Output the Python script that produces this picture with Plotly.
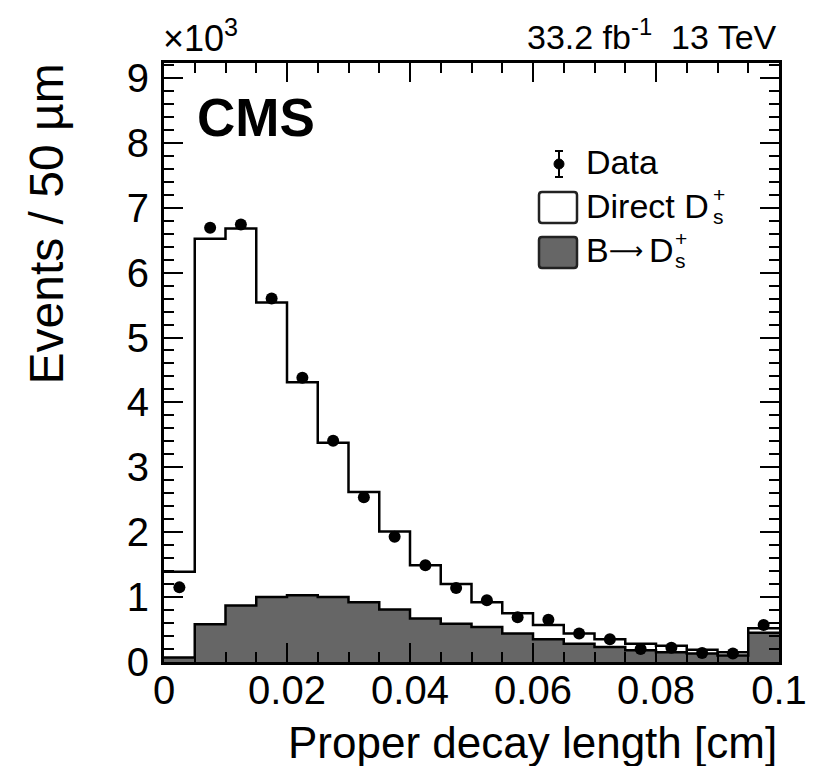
import plotly.graph_objects as go

# ---------------- data (in units of 10^3 events) ----------------
bin_edges = [0.000, 0.005, 0.010, 0.015, 0.020, 0.025, 0.030, 0.035, 0.040, 0.045,
             0.050, 0.055, 0.060, 0.065, 0.070, 0.075, 0.080, 0.085, 0.090, 0.095, 0.100]
direct_ds = [1.32, 5.94, 5.81, 4.54, 3.28, 2.38, 1.70, 1.20, 0.82, 0.61,
             0.38, 0.31, 0.22, 0.16, 0.12, 0.10, 0.10, 0.06, 0.05, 0.07]
b_to_ds = [0.07, 0.58, 0.87, 1.00, 1.03, 1.00, 0.92, 0.81, 0.67, 0.59,
           0.54, 0.44, 0.35, 0.28, 0.23, 0.18, 0.15, 0.13, 0.10, 0.45]
data_counts = [1.15, 6.69, 6.74, 5.60, 4.38, 3.41, 2.54, 1.93, 1.49, 1.14,
               0.95, 0.69, 0.65, 0.44, 0.35, 0.20, 0.22, 0.14, 0.13, 0.57]
x_tick_vals = [0, 0.02, 0.04, 0.06, 0.08, 0.1]
x_tick_text = ["0", "0.02", "0.04", "0.06", "0.08", "0.1"]
y_tick_vals = [0, 1, 2, 3, 4, 5, 6, 7, 8, 9]
y_tick_text = ["0", "1", "2", "3", "4", "5", "6", "7", "8", "9"]

# ---------------- layout geometry ----------------
# The page body has an 8px margin, so the figure is drawn 8px smaller and
# placed at (8, 8) on the page.
OFF = 8
PAGE_W, PAGE_H = 832, 766
W, H = PAGE_W - OFF, PAGE_H - OFF
PL, PR, PT, PB = 164, 779, 63, 662          # plot frame in page pixels
L, R, T, B = PL - OFF, PAGE_W - PR, PT - OFF, PAGE_H - PB
PW = PR - PL
PH = PB - PT
FONT = "Liberation Sans, Arial, Helvetica, sans-serif"
GRAY = "#666666"


def px(x):
    return (x - PL) / PW


def py(y):
    return (PB - y) / PH


total = [d + b for d, b in zip(direct_ds, b_to_ds)]
centers = [(a + b) / 2 for a, b in zip(bin_edges[:-1], bin_edges[1:])]

fig = go.Figure()
fig.add_trace(go.Scatter(
    x=bin_edges, y=total + [total[-1]], mode="lines",
    line=dict(shape="hv", color="black", width=2.5),
    fill="tozeroy", fillcolor="white", showlegend=False, hoverinfo="skip"))
fig.add_trace(go.Scatter(
    x=bin_edges, y=b_to_ds + [b_to_ds[-1]], mode="lines",
    line=dict(shape="hv", color="black", width=2.5),
    fill="tozeroy", fillcolor=GRAY, showlegend=False, hoverinfo="skip"))
fig.add_trace(go.Scatter(
    x=centers, y=data_counts, mode="markers",
    marker=dict(color="black", size=12), showlegend=False))

axis_common = dict(
    showline=True, linecolor="black", linewidth=3, mirror="ticks",
    ticks="inside", ticklen=19, tickwidth=2, tickcolor="black",
    showgrid=False, zeroline=False, layer="above traces",
    tickfont=dict(family=FONT, size=40, color="black"),
)

fig.update_layout(
    width=W, height=H,
    margin=dict(l=L, r=R, t=T, b=B, autoexpand=False),
    paper_bgcolor="white", plot_bgcolor="white",
    showlegend=False,
    xaxis=dict(range=[0, 0.1], tickmode="array", tickvals=x_tick_vals, ticktext=x_tick_text,
               ticklabelstandoff=-9,
               minor=dict(ticks="inside", ticklen=10, tickwidth=2, tickcolor="black",
                          dtick=0.005, tick0=0),
               **axis_common),
    yaxis=dict(range=[0, 9.23], tickmode="array", tickvals=y_tick_vals, ticktext=y_tick_text,
               ticklabelstandoff=4,
               minor=dict(ticks="inside", ticklen=10, tickwidth=2, tickcolor="black",
                          dtick=0.2, tick0=0),
               **axis_common),
)

ann = []


def text(x, y, s, size, xanchor="left", yanchor="middle", bold=False, angle=0, family=FONT):
    ann.append(dict(
        x=px(x), y=py(y), xref="paper", yref="paper", text=("<b>%s</b>" % s) if bold else s,
        showarrow=False, xanchor=xanchor, yanchor=yanchor, textangle=angle,
        font=dict(family=family, size=size, color="black")))


# header texts
text(161, 36, "×10<sup>3</sup>", 36)
text(779, 35, "33.2 fb<sup>-1</sup>\u00a0\u00a013 TeV", 34, xanchor="right")
text(195, 118, "CMS", 53, bold=True)
# axis titles
text(779, 742, "Proper decay length [cm]", 44, xanchor="right")
text(46, 62, "Events / 50 µm", 48, xanchor="center", yanchor="top", angle=-90)

# legend texts
text(584, 162, "Data", 34)
text(584, 206, "Direct D", 34)
text(711, 194, "+", 21)
text(711, 216, "s", 21)
text(584, 250, "B", 34)
text(607, 251, "\u27f6", 24, family="DejaVu Sans")
text(647, 250, "D", 34)
text(673, 238, "+", 21)
text(673, 260, "s", 21)

shapes = []


def rbox(x0, y0, x1, y1, fill, r=3):
    X0, X1 = px(x0), px(x1)
    Y0, Y1 = py(y0), py(y1)
    rx, ry = r / PW, r / PH
    path = (f"M {X0+rx},{Y0} L {X1-rx},{Y0} Q {X1},{Y0} {X1},{Y0-ry} "
            f"L {X1},{Y1+ry} Q {X1},{Y1} {X1-rx},{Y1} L {X0+rx},{Y1} "
            f"Q {X0},{Y1} {X0},{Y1+ry} L {X0},{Y0-ry} Q {X0},{Y0} {X0+rx},{Y0} Z")
    shapes.append(dict(type="path", path=path, xref="paper", yref="paper",
                       fillcolor=fill, line=dict(color="#222222", width=2.5)))


rbox(539, 192, 577, 223, "white")
rbox(539, 237, 577, 268, GRAY)

# legend data marker with error bar
shapes.append(dict(type="line", xref="paper", yref="paper",
                   x0=px(559), x1=px(559), y0=py(151), y1=py(177),
                   line=dict(color="black", width=2)))
for yy in (151, 177):
    shapes.append(dict(type="line", xref="paper", yref="paper",
                       x0=px(555), x1=px(563), y0=py(yy), y1=py(yy),
                       line=dict(color="black", width=2)))
shapes.append(dict(type="circle", xref="paper", yref="paper",
                   x0=px(554), x1=px(564), y0=py(159), y1=py(169),
                   fillcolor="black", line=dict(color="black", width=1)))

fig.update_layout(annotations=ann, shapes=shapes)
fig.write_html("out.html")
